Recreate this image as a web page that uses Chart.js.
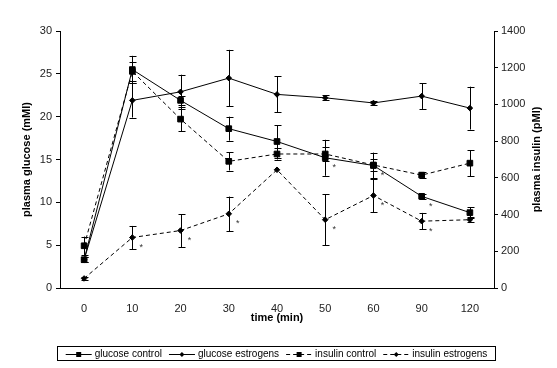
<!DOCTYPE html>
<html>
<head>
<meta charset="utf-8">
<script src="https://cdn.jsdelivr.net/npm/chart.js@4.4.0/dist/chart.umd.min.js"></script>
<style>
  body { margin: 0; background: #fff; }
  #wrap { width: 557px; height: 368px; }
</style>
</head>
<body>
<div id="wrap"><canvas id="chart" width="557" height="368"></canvas></div>
<script>
// time points (min)
const timeLabels = ['0', '10', '20', '30', '40', '50', '60', '90', '120'];

// plasma glucose (left axis)
const glucoseControl = [3.3, 25.5, 21.9, 18.6, 17.1, 15.2, 14.3, 10.7, 8.8];
const glucoseControlErr = [0.3, 1.6, 0.5, 1.4, 1.9, 2.1, 1.5, 0.3, 0.6];
const glucoseEstrogens = [3.3, 21.9, 22.9, 24.5, 22.6, 22.2, 21.6, 22.4, 21.0];
const glucoseEstrogensErr = [0.3, 2.0, 2.0, 3.3, 2.1, 0.3, 0.2, 1.5, 2.5];

// plasma insulin (right axis)
const insulinControl = [230, 1180, 920, 690, 730, 730, 670, 615, 680];
const insulinControlErr = [50, 50, 65, 50, 30, 40, 35, 15, 70];
const insulinEstrogens = [52, 275, 313, 404, 644, 372, 504, 364, 372];
const insulinEstrogensErr = [10, 63, 90, 94, 0, 140, 92, 45, 15];

// significance marks (*)
const glucoseControlSig = [0, 0, 0, 0, 0, 1, 1, 1, 0];
const insulinEstrogensSig = [0, 1, 1, 1, 0, 1, 1, 1, 0];

const FONT = '"Liberation Sans", Arial, sans-serif';

function series(label, data, err, sig, axis, style, dashed) {
    return {
        label: label,
        data: data,
        errors: err,
        sig: sig,
        yAxisID: axis,
        borderColor: '#000',
        borderWidth: 1,
        borderDash: dashed ? [4, 3] : [],
        pointStyle: style,
        pointRadius: style === 'rect' ? 4 : 2.8,
        pointBackgroundColor: '#000',
        pointBorderColor: '#000',
        pointBorderWidth: 1,
        tension: 0,
        fill: false
    };
}

// error bars and asterisks
const errorBars = {
    id: 'errorBars',
    afterDatasetsDraw(chart) {
        const ctx = chart.ctx;
        ctx.save();
        ctx.strokeStyle = '#000';
        ctx.lineWidth = 1;
        chart.data.datasets.forEach((ds, i) => {
            const meta = chart.getDatasetMeta(i);
            const scale = chart.scales[ds.yAxisID];
            meta.data.forEach((pt, j) => {
                const e = ds.errors[j];
                if (!e) return;
                const x = Math.round(pt.x) + 0.5;
                const top = scale.getPixelForValue(ds.data[j] + e);
                const bot = scale.getPixelForValue(ds.data[j] - e);
                ctx.beginPath();
                ctx.moveTo(x, top); ctx.lineTo(x, bot);
                ctx.moveTo(x - 3, Math.round(top) + 0.5); ctx.lineTo(x + 4, Math.round(top) + 0.5);
                ctx.moveTo(x - 3, Math.round(bot) + 0.5); ctx.lineTo(x + 4, Math.round(bot) + 0.5);
                ctx.stroke();
            });
            ctx.fillStyle = '#333';
            ctx.font = '9px ' + FONT;
            ctx.textAlign = 'center';
            ctx.textBaseline = 'middle';
            meta.data.forEach((pt, j) => {
                if (ds.sig[j]) ctx.fillText('*', pt.x + 9, pt.y + 10);
            });
        });
        ctx.restore();
    }
};

// right title (reads upwards) and boxed legend
const extras = {
    id: 'extras',
    afterDraw(chart) {
        const ctx = chart.ctx;
        ctx.save();
        ctx.fillStyle = '#000';
        ctx.font = 'bold 11px ' + FONT;
        ctx.textAlign = 'center';
        ctx.textBaseline = 'middle';
        const area = chart.chartArea;
        ctx.translate(537, (area.top + area.bottom) / 2);
        ctx.rotate(-Math.PI / 2);
        ctx.fillText('plasma insulin (pMl)', 0, 0);
        ctx.restore();

        ctx.save();
        ctx.font = '10px ' + FONT;
        const items = chart.data.datasets;
        const sample = 26, gapS = 3, gapI = 7;
        let total = 0;
        items.forEach((ds, i) => {
            total += sample + gapS + ctx.measureText(ds.label).width + (i < items.length - 1 ? gapI : 0);
        });
        const bx = 57.5, bw = 438, by = 346.5, bh = 14;
        ctx.strokeStyle = '#000';
        ctx.lineWidth = 1;
        ctx.strokeRect(bx, by, bw, bh);
        const cy = by + bh / 2;
        let x = bx + (bw - total) / 2;
        items.forEach((ds) => {
            ctx.strokeStyle = '#000';
            ctx.setLineDash(ds.borderDash);
            ctx.beginPath();
            ctx.moveTo(x, Math.round(cy) + 0.5);
            ctx.lineTo(x + sample, Math.round(cy) + 0.5);
            ctx.stroke();
            ctx.setLineDash([]);
            const mx = x + sample / 2, my = Math.round(cy) + 0.5;
            ctx.fillStyle = '#000';
            ctx.beginPath();
            if (ds.pointStyle === 'rect') {
                ctx.rect(mx - 2.5, my - 2.5, 5, 5);
            } else {
                ctx.moveTo(mx, my - 2.5); ctx.lineTo(mx + 2.5, my);
                ctx.lineTo(mx, my + 2.5); ctx.lineTo(mx - 2.5, my);
                ctx.closePath();
            }
            ctx.fill();
            x += sample + gapS;
            ctx.textAlign = 'left';
            ctx.textBaseline = 'middle';
            ctx.fillText(ds.label, x, cy + 0.5);
            x += ctx.measureText(ds.label).width + gapI;
        });
        ctx.restore();
    }
};

new Chart(document.getElementById('chart').getContext('2d'), {
    type: 'line',
    data: {
        labels: timeLabels,
        datasets: [
            series('glucose control', glucoseControl, glucoseControlErr, glucoseControlSig, 'y', 'rect', false),
            series('glucose estrogens', glucoseEstrogens, glucoseEstrogensErr, glucoseEstrogens.map(() => 0), 'y', 'rectRot', false),
            series('insulin control', insulinControl, insulinControlErr, insulinControl.map(() => 0), 'y1', 'rect', true),
            series('insulin estrogens', insulinEstrogens, insulinEstrogensErr, insulinEstrogensSig, 'y1', 'rectRot', true)
        ]
    },
    options: {
        responsive: false,
        animation: false,
        devicePixelRatio: 1,
        layout: { padding: { top: 31, left: 0, right: 0, bottom: 0 } },
        plugins: {
            legend: { display: false },
            tooltip: { enabled: false }
        },
        scales: {
            x: {
                offset: true,
                grid: { display: false },
                border: { display: true, color: '#000', width: 1 },
                ticks: { color: '#222', font: { family: FONT, size: 11 }, padding: 6, maxRotation: 0 },
                title: {
                    display: true, text: 'time (min)', color: '#000',
                    font: { family: FONT, size: 11, weight: 'bold' },
                    padding: { top: 0, bottom: 43 }
                },
                afterFit: s => { s.height = 80; }
            },
            y: {
                position: 'left',
                min: 0, max: 30,
                ticks: { stepSize: 5, color: '#222', font: { family: FONT, size: 11 }, padding: 4 },
                grid: { drawOnChartArea: false, drawTicks: true, tickLength: 4, color: '#000' },
                border: { display: true, color: '#000', width: 1 },
                title: {
                    display: true, text: 'plasma glucose (mMl)', color: '#000',
                    font: { family: FONT, size: 11, weight: 'bold' },
                    padding: { top: 20, bottom: 0 }
                },
                afterFit: s => { s.width = 60; }
            },
            y1: {
                position: 'right',
                min: 0, max: 1400,
                ticks: {
                    stepSize: 200, color: '#222', font: { family: FONT, size: 11 }, padding: 3,
                    callback: v => String(v)
                },
                grid: { drawOnChartArea: false, drawTicks: true, tickLength: 4, color: '#000' },
                border: { display: true, color: '#000', width: 1 },
                afterFit: s => { s.width = 63; }
            }
        }
    },
    plugins: [errorBars, extras]
});
</script>
</body>
</html>
